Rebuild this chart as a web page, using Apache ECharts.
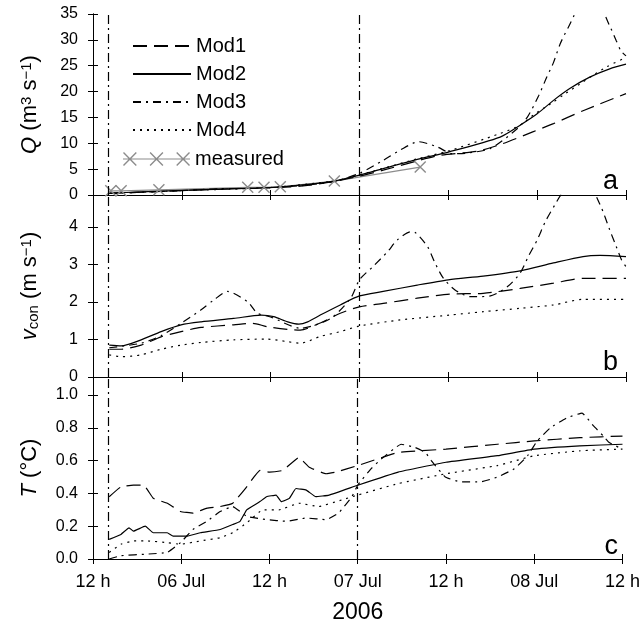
<!DOCTYPE html>
<html>
<head>
<meta charset="utf-8">
<script src="https://cdn.jsdelivr.net/npm/echarts@6/dist/echarts.min.js"></script>
<style>
  html, body { margin: 0; padding: 0; background: #fff; }
  #chart { width: 643px; height: 626px; }
</style>
</head>
<body>
<div id="chart"></div>
<script>
// hours since 05 Jul 2006 12:00
const tickLabels = ['12 h', '06 Jul', '12 h', '07 Jul', '12 h', '08 Jul', '12 h'];
const eventHours = [2.1, 36];
const panelLetters = ['a', 'b', 'c'];

// discharge Q (m3 s-1)
const qMod1 = [[2.2,0.3],[12,0.85],[18.6,1.2],[24,1.4],[28,1.7],[32.5,2.6],[36,3.65],[39.2,4.8],[43.8,6.6],[47,7.7],[52,8.5],[55.3,9.9],[59.4,12.2],[62.2,13.8],[66.2,16.3],[72,19.6]];
const qMod2 = [[2.2,0.35],[6.5,0.6],[12,0.9],[18.6,1.2],[24,1.45],[28,1.9],[32.5,2.7],[36,3.85],[39.2,5.1],[43.8,6.9],[48,8.3],[55,11.2],[57.7,13.5],[60,15.7],[62.2,18.3],[64.4,20.6],[67.1,22.8],[69.8,24.4],[72,25.3]];
const qMod3 = [[2.2,0.3],[12,0.85],[17,1.2],[22,1.3],[28,1.8],[32.5,2.6],[36,4.2],[39.2,6.7],[41.5,8.7],[44,10.3],[46.5,9.3],[48.5,8.0],[50.5,8.1],[53.7,9.0],[57.3,12.8],[58.7,15.1],[60.2,19.2],[61.3,22.8],[62.2,25.6],[63.1,29.2],[64.2,32.4],[67.2,40],[69.8,32.7],[70.7,29.8],[71.3,27.9],[72,26.9]];
const qMod4 = [[2.2,0.3],[12,0.85],[24,1.45],[32.5,2.7],[36,3.9],[43.8,7.0],[48,8.5],[55,11.9],[57.7,13.5],[59.5,15.5],[61.1,17],[62.2,18],[63.5,19.3],[65.8,21.5],[67.6,23.2],[69.4,24.8],[72,26.6]];
const qMeasured = [[2.4,0.8],[3.8,0.8],[8.9,1.0],[20.9,1.5],[23.1,1.5],[25.3,1.6],[32.6,2.7],[44.2,5.4]];

// flow velocity v_con (m s-1)
const vMod1 = [[2.2,0.74],[3.8,0.74],[6.5,0.85],[9.2,1.07],[11.9,1.21],[14.6,1.32],[19,1.39],[21.6,1.43],[23.5,1.34],[26.3,1.27],[28,1.25],[30.7,1.44],[33.4,1.7],[36,1.87],[39.2,1.96],[43.8,2.1],[48.2,2.21],[52.7,2.23],[57.7,2.36],[62.2,2.5],[66.2,2.63],[72,2.63]];
const vMod2 = [[2.2,0.85],[3.8,0.83],[6.5,0.99],[9.2,1.21],[11.9,1.39],[14.6,1.47],[19,1.56],[22.7,1.65],[24.4,1.61],[26.3,1.47],[27.8,1.41],[29,1.47],[30.7,1.65],[33.4,1.92],[36,2.16],[39.2,2.28],[43.8,2.45],[48,2.59],[52.7,2.69],[57.7,2.83],[62.2,3.04],[66.2,3.21],[68.5,3.24],[72,3.21]];
const vMod3 = [[2.2,0.78],[6.5,0.9],[9.2,1.1],[11.9,1.43],[14.6,1.79],[16.3,2.05],[18.2,2.28],[20.9,2.0],[22.2,1.7],[24,1.6],[28,1.3],[32.1,1.56],[34.8,2.1],[36,2.59],[37.8,2.94],[39.8,3.34],[41.1,3.65],[42.9,3.87],[43.6,3.84],[45.2,3.47],[46.2,3.04],[47.3,2.64],[48.9,2.32],[51,2.14],[53.7,2.16],[56,2.41],[57.7,2.77],[58.8,3.21],[60,3.65],[61.1,4.14],[62.4,4.59],[63.4,4.9],[66.3,5.3],[68.5,4.59],[69.8,3.92],[70.5,3.57],[71.4,3.12],[72,2.94]];
const vMod4 = [[2.2,0.59],[3.8,0.54],[6.5,0.59],[9.2,0.74],[11.9,0.85],[14.6,0.92],[19,0.99],[23.5,1.01],[26.3,0.94],[28,0.9],[30.7,1.08],[33.4,1.21],[36,1.36],[41.5,1.52],[48.2,1.65],[52.7,1.74],[57.7,1.83],[62.2,1.92],[66.2,2.07],[72,2.07]];

// water temperature T (degC)
const tMod1 = [[2.2,0.38],[3.8,0.44],[5.5,0.45],[6.9,0.45],[8.2,0.37],[10.1,0.34],[11.9,0.29],[13.6,0.28],[15.5,0.31],[17.3,0.32],[19,0.34],[20.9,0.44],[22.7,0.54],[24,0.53],[25.8,0.54],[28,0.62],[29.4,0.56],[31.7,0.52],[33,0.53],[36,0.57],[41.5,0.65],[48,0.67],[55,0.7],[60,0.72],[66.2,0.74],[72,0.75]];
const tMod2 = [[2.2,0.12],[3.8,0.15],[4.9,0.19],[5.5,0.17],[7.1,0.2],[8.2,0.16],[10.1,0.16],[10.9,0.14],[12.8,0.14],[14.6,0.16],[17.3,0.18],[19,0.21],[20,0.23],[20.9,0.3],[22.7,0.35],[23.6,0.38],[24.9,0.39],[25.6,0.35],[26.7,0.37],[27.6,0.43],[29,0.42],[30.3,0.38],[32.1,0.39],[36,0.45],[41.5,0.53],[48,0.59],[55,0.63],[60,0.67],[66.2,0.69],[72,0.7]];
const tMod3 = [[2.2,0.0],[3.8,0.02],[7.4,0.03],[10.1,0.04],[11.9,0.1],[13.6,0.18],[15.5,0.23],[17.3,0.29],[19,0.32],[20.9,0.26],[23.6,0.24],[26.3,0.23],[29,0.25],[31.7,0.24],[33.4,0.28],[35.2,0.38],[36,0.45],[37.8,0.55],[39.2,0.61],[41.9,0.7],[43.8,0.68],[45.2,0.65],[46,0.6],[47.9,0.5],[50,0.47],[52.7,0.47],[55,0.5],[57.3,0.55],[59.1,0.63],[60.4,0.72],[62.2,0.8],[64.4,0.86],[66.5,0.89],[68.1,0.81],[69.4,0.75],[70.2,0.71],[72,0.67]];
const tMod4 = [[2.2,0.04],[3.8,0.09],[5.5,0.11],[7.4,0.11],[10.1,0.1],[11.9,0.09],[14.6,0.11],[17.3,0.13],[19,0.16],[20.9,0.22],[23.1,0.3],[25.3,0.3],[28,0.34],[30.7,0.32],[33.8,0.36],[36,0.39],[41.5,0.46],[48,0.52],[55,0.57],[60,0.63],[66.2,0.66],[72,0.67]];

const FONT = '"Liberation Sans", Arial, Helvetica, sans-serif';
const modelNames = ['Mod1', 'Mod2', 'Mod3', 'Mod4'];
const modelDash = [[14, 7], 'solid', [8, 5, 2, 5], [2, 5]];
const crossPath = 'path://M0,1L1,0L12,11L11,12ZM11,0L12,1L1,12L0,11Z';
const legendCrossPath = 'path://M0,6.5L68,6.5L68,7.5L0,7.5Z' +
  'M0,1L1,0L14,13L13,14ZM13,0L14,1L1,14L0,13Z' +
  'M27,1L28,0L41,13L40,14ZM40,0L41,1L28,14L27,13Z' +
  'M54,1L55,0L68,13L67,14ZM67,0L68,1L55,14L54,13Z';

const chart = echarts.init(document.getElementById('chart'));

const grids = [
  { left: 93, top: 14, width: 533, height: 181 },
  { left: 93, top: 195, width: 533, height: 182 },
  { left: 93, top: 377, width: 533, height: 182 }
];

const axisLine = { show: true, lineStyle: { color: '#000', width: 1 } };
const tick = { show: true, inside: true, length: 5, lineStyle: { color: '#000', width: 1 } };

const xAxes = [];
grids.forEach((g, i) => {
  const last = i === 2;
  xAxes.push({
    type: 'value', gridIndex: i, min: 0, max: 72, interval: 12, position: 'bottom',
    axisLine, axisTick: tick, splitLine: { show: false },
    axisLabel: {
      show: last, margin: 14, fontSize: 18, fontFamily: FONT, color: '#000',
      formatter: v => tickLabels[Math.round(v / 12)]
    },
    name: last ? '2006' : '', nameLocation: 'middle', nameGap: 42,
    nameTextStyle: { fontSize: 23, fontFamily: FONT, color: '#000' }
  });
  xAxes.push({
    type: 'value', gridIndex: i, min: 0, max: 72, interval: 12, position: 'top',
    axisLine, axisTick: tick, axisLabel: { show: false }, splitLine: { show: false }
  });
});

const richName = {
  i: { fontStyle: 'italic', fontSize: 22, fontFamily: FONT, color: '#000' },
  sup: { fontSize: 15, fontFamily: FONT, color: '#000', verticalAlign: 'top' },
  sub: { fontSize: 15, fontFamily: FONT, color: '#000', verticalAlign: 'bottom' }
};
const yNames = ['{i|Q} (m{sup|3} s{sup|\u22121})', '{i|v}{sub|con} (m s{sup|\u22121})', '{i|T} (\u00b0C)'];
const yRanges = [[0, 35, 5], [0, 4.85, 1], [0, 1.11, 0.2]];
const yFormat = [v => String(v), v => String(v), v => v.toFixed(1)];

const yAxes = [];
grids.forEach((g, i) => {
  const [mn, mx, iv] = yRanges[i];
  yAxes.push({
    type: 'value', gridIndex: i, min: mn, max: mx, interval: iv, position: 'left',
    axisLine, axisTick: tick, splitLine: { show: false },
    axisLabel: {
      margin: 15, fontSize: 16, fontFamily: FONT, color: '#000',
      showMaxLabel: i === 0, formatter: yFormat[i]
    },
    name: yNames[i], nameLocation: 'middle', nameGap: 52, nameRotate: 90,
    nameTextStyle: { fontSize: 22, fontFamily: FONT, color: '#000', rich: richName }
  });
  yAxes.push({
    type: 'value', gridIndex: i, min: mn, max: mx, interval: iv, position: 'right',
    axisLine, axisTick: tick, axisLabel: { show: false }, splitLine: { show: false }
  });
});

function modelSeries(k, data, i) {
  const s = {
    name: modelNames[k], type: 'line', data, symbol: 'none',
    xAxisIndex: 2 * i, yAxisIndex: 2 * i,
    smooth: i < 2 ? 0.25 : 0.1,
    lineStyle: { color: '#000', width: 1.2, type: modelDash[k] },
    itemStyle: { color: '#000' }
  };
  if (k === 1) {
    s.markLine = {
      silent: true, symbol: ['none', 'none'], label: { show: false },
      lineStyle: { color: '#000', width: 1.2, type: [9, 4, 2, 4] },
      data: eventHours.map(h => ({ xAxis: h }))
    };
  }
  return s;
}

const series = [{
  name: 'measured', type: 'line', data: qMeasured, xAxisIndex: 0, yAxisIndex: 0,
  symbol: crossPath, symbolSize: 12, showSymbol: true,
  lineStyle: { color: '#8c8c8c', width: 1.2 }, itemStyle: { color: '#8c8c8c' }
}];
[[qMod1, qMod2, qMod3, qMod4], [vMod1, vMod2, vMod3, vMod4], [tMod1, tMod2, tMod3, tMod4]]
  .forEach((set, i) => set.forEach((d, k) => series.push(modelSeries(k, d, i))));

const letterY = [181, 362, 546];

chart.setOption({
  animation: false,
  grid: grids,
  xAxis: xAxes,
  yAxis: yAxes,
  legend: [{
    orient: 'vertical', left: 132, top: 36, itemWidth: 58, itemHeight: 14, itemGap: 8,
    padding: 0, selectedMode: false,
    itemStyle: { opacity: 0 },
    textStyle: { fontSize: 20, fontFamily: FONT, color: '#000' },
    data: modelNames
  }, {
    orient: 'vertical', left: 123, top: 149, itemWidth: 67, itemHeight: 14,
    padding: 0, selectedMode: false,
    textStyle: { fontSize: 20, fontFamily: FONT, color: '#000' },
    data: [{ name: 'measured', icon: legendCrossPath }]
  }],
  graphic: panelLetters.map((t, i) => ({
    type: 'text', right: 25, top: letterY[i] - 13,
    style: { text: t, fontSize: 27, fontFamily: FONT, fill: '#000' }
  })),
  series
});
</script>
</body>
</html>
